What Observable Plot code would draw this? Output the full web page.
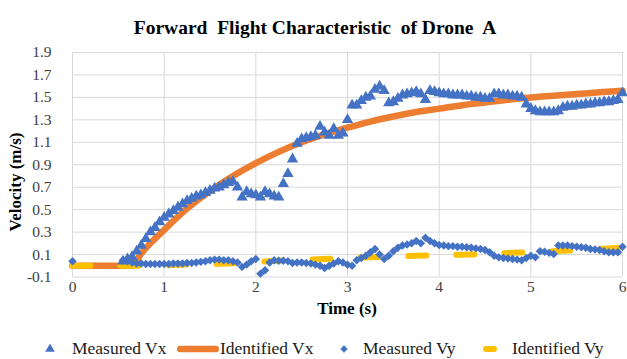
<!DOCTYPE html>
<html>
<head>
<meta charset="utf-8">
<script src="https://cdn.jsdelivr.net/npm/d3@7"></script>
<script src="https://cdn.jsdelivr.net/npm/@observablehq/plot@0.6"></script>
<style>
  html, body { margin: 0; padding: 0; background: #ffffff; }
  #chart { position: relative; width: 627px; height: 359px; overflow: hidden; background: #ffffff;
           font-family: "Liberation Serif", "Times New Roman", serif; color: #000; }
  .abs { position: absolute; white-space: pre; line-height: 1; }
  .title { font-weight: bold; font-size: 19.5px; transform: translate(-50%, -50%); }
  .axis-title { font-weight: bold; font-size: 17px; }
  .legend-text { font-size: 17.5px; transform: translateY(-50%); color: #1a1a1a; }
  #plot { position: absolute; left: 0; top: 45px; }
  .sym { position: absolute; overflow: visible; }
</style>
</head>
<body>
<div id="chart">
  <div class="abs title" style="left:315px; top:28px;">Forward  Flight Characteristic  of Drone  A</div>
  <div id="plot"></div>
  <div class="abs axis-title" style="left:15px; top:182px; transform: translate(-50%, -50%) rotate(-90deg);">Velocity (m/s)</div>
  <div class="abs axis-title" style="left:347px; top:308px; transform: translate(-50%, -50%);">Time (s)</div>
  <div id="legend"></div>
</div>
<script>
// Time axis (s) and velocity axis (m/s) tick values
const xTicks = [0, 1, 2, 3, 4, 5, 6];
const yTicks = [-0.1, 0.1, 0.3, 0.5, 0.7, 0.9, 1.1, 1.3, 1.5, 1.7, 1.9];

// Sample times of the measured velocities (s)
const sampleTime = [
  0.55, 0.6, 0.65, 0.7, 0.75, 0.8, 0.85, 0.9, 0.95, 1.0,
  1.05, 1.1, 1.15, 1.2, 1.25, 1.3, 1.35, 1.4, 1.45, 1.5,
  1.55, 1.6, 1.65, 1.7, 1.75, 1.8, 1.85, 1.9, 1.95, 2.0,
  2.05, 2.1, 2.15, 2.2, 2.25, 2.3, 2.35, 2.4, 2.45, 2.5,
  2.55, 2.6, 2.65, 2.7, 2.75, 2.8, 2.85, 2.9, 2.95, 3.0,
  3.05, 3.1, 3.15, 3.2, 3.25, 3.3, 3.35, 3.4, 3.45, 3.5,
  3.55, 3.6, 3.65, 3.7, 3.75, 3.8, 3.85, 3.9, 3.95, 4.0,
  4.05, 4.1, 4.15, 4.2, 4.25, 4.3, 4.35, 4.4, 4.45, 4.5,
  4.55, 4.6, 4.65, 4.7, 4.75, 4.8, 4.85, 4.9, 4.95, 5.0,
  5.05, 5.1, 5.15, 5.2, 5.25, 5.3, 5.35, 5.4, 5.45, 5.5,
  5.55, 5.6, 5.65, 5.7, 5.75, 5.8, 5.85, 5.9, 5.95, 6.0
];

// Measured forward velocity Vx (m/s)
const measuredVx = [
  0.04, 0.06, 0.08, 0.13, 0.18, 0.24, 0.30, 0.34, 0.39, 0.43,
  0.46, 0.49, 0.52, 0.55, 0.58, 0.60, 0.62, 0.63, 0.65, 0.67,
  0.69, 0.70, 0.72, 0.74, 0.75, 0.70, 0.61, 0.66, 0.64, 0.63,
  0.61, 0.66, 0.64, 0.62, 0.61, 0.73, 0.82, 0.95, 1.09, 1.13,
  1.14, 1.15, 1.16, 1.24, 1.19, 1.16, 1.22, 1.16, 1.18, 1.30,
  1.43, 1.43, 1.47, 1.50, 1.51, 1.57, 1.60, 1.56, 1.45, 1.46,
  1.49, 1.52, 1.53, 1.54, 1.55, 1.53, 1.48, 1.56, 1.55, 1.54,
  1.53, 1.53, 1.52, 1.52, 1.52, 1.51, 1.51, 1.50, 1.50, 1.49,
  1.49, 1.53, 1.53, 1.52, 1.52, 1.51, 1.51, 1.50, 1.44, 1.40,
  1.38, 1.37, 1.37, 1.37, 1.37, 1.38, 1.41, 1.42, 1.42, 1.43,
  1.43, 1.44, 1.44, 1.45, 1.45, 1.46, 1.46, 1.47, 1.48, 1.54
];

// Measured lateral velocity Vy (m/s); one extra reading at t = 0
const vyInitial = { t: 0, v: 0.04 };
const measuredVy = [
  0.05, 0.04, 0.03, 0.02, 0.02, 0.015, 0.015, 0.015, 0.015, 0.015,
  0.015, 0.02, 0.02, 0.02, 0.025, 0.025, 0.03, 0.035, 0.04, 0.05,
  0.055, 0.055, 0.05, 0.05, 0.04, 0.03, -0.01, 0.01, 0.04, 0.06,
  -0.07, -0.04, 0.03, 0.05, 0.045, 0.045, 0.04, 0.025, 0.03, 0.03,
  0.025, 0.02, 0.01, 0.0, -0.02, 0.0, 0.02, 0.04, 0.03, 0.01,
  0.0, 0.05, 0.07, 0.09, 0.12, 0.15, 0.10, 0.06, 0.09, 0.13,
  0.16, 0.18, 0.19, 0.20, 0.22, 0.20, 0.25, 0.22, 0.20, 0.185,
  0.18, 0.175, 0.175, 0.17, 0.17, 0.165, 0.16, 0.155, 0.15, 0.14,
  0.12, 0.09, 0.075, 0.07, 0.065, 0.06, 0.055, 0.05, 0.07, 0.09,
  0.075, 0.13, 0.125, 0.115, 0.105, 0.18, 0.18, 0.18, 0.175, 0.17,
  0.165, 0.16, 0.15, 0.145, 0.14, 0.13, 0.12, 0.12, 0.12, 0.17
];

// Identified model responses (m/s)
const identifiedTime = [0, 0.25, 0.5, 0.65, 0.75, 1.0, 1.25, 1.5, 1.75, 2.0, 2.25, 2.5, 2.75,
  3.0, 3.25, 3.5, 3.75, 4.0, 4.25, 4.5, 4.75, 5.0, 5.25, 5.5, 5.75, 6.0];
const identifiedVx = [0, 0, 0, 0, 0.11, 0.32, 0.51, 0.665, 0.80, 0.915, 1.015, 1.10, 1.17,
  1.23, 1.285, 1.33, 1.37, 1.40, 1.43, 1.455, 1.48, 1.50, 1.515, 1.53, 1.545, 1.56];
const identifiedVy = [0, 0, 0, 0, 0.002, 0.006, 0.011, 0.016, 0.022, 0.033, 0.045, 0.053, 0.061,
  0.07, 0.076, 0.082, 0.089, 0.094, 0.099, 0.104, 0.114, 0.121, 0.13, 0.138, 0.15, 0.162];

const BLUE = "#4472C4", ORANGE = "#ED7D31", YELLOW = "#FFC000", GRID = "#d9d9d9";
const SERIF = "Liberation Serif";

const vxPoints = sampleTime.map((t, i) => ({ t, v: measuredVx[i] }));
const vyPoints = [vyInitial, ...sampleTime.map((t, i) => ({ t, v: measuredVy[i] }))];
const idVx = identifiedTime.map((t, i) => ({ t, v: identifiedVx[i] }));
const idVy = identifiedTime.map((t, i) => ({ t, v: identifiedVy[i] }));

const chart = Plot.plot({
  width: 627,
  height: 260,
  marginLeft: 72,
  marginRight: 5,
  marginTop: 7,
  marginBottom: 28.5,
  style: { background: "transparent", overflow: "visible" },
  x: { domain: [0, 6] },
  y: { domain: [-0.1, 1.9] },
  marks: [
    Plot.ruleY(yTicks, { stroke: GRID, strokeWidth: 1 }),
    Plot.ruleX(xTicks, { stroke: GRID, strokeWidth: 1 }),
    Plot.axisX(xTicks, { tickSize: 0, tickPadding: 4, label: null, tickFormat: d => String(d),
                         fontFamily: SERIF, fontSize: 15.5, fill: "#404040" }),
    Plot.axisY(yTicks, { tickSize: 0, tickPadding: 21, label: null, tickFormat: d => d.toFixed(1),
                         fontFamily: SERIF, fontSize: 15.5, fill: "#404040" }),
    Plot.line(idVx, { x: "t", y: "v", stroke: ORANGE, strokeWidth: 6.5, curve: "monotone-x", strokeLinecap: "round" }),
    Plot.line(idVy, { x: "t", y: "v", stroke: YELLOW, strokeWidth: 6, curve: "monotone-x",
                      strokeLinecap: "round", strokeDasharray: "18,30" }),
    Plot.dot(vyPoints, { x: "t", y: "v", symbol: "diamond2", fill: BLUE, r: 3.8 }),
    Plot.dot(vxPoints, { x: "t", y: "v", symbol: "triangle", fill: BLUE, r: 4.2 })
  ]
});
document.getElementById("plot").appendChild(chart);

// Legend row below the plot
const legendY = 349;
const legend = document.getElementById("legend");
const svgNS = "http://www.w3.org/2000/svg";
function symbolItem(cx, type) {
  const s = document.createElementNS(svgNS, "svg");
  s.setAttribute("class", "sym");
  s.setAttribute("width", 12); s.setAttribute("height", 12);
  s.style.left = (cx - 6) + "px"; s.style.top = (legendY - 6) + "px";
  const p = document.createElementNS(svgNS, "path");
  p.setAttribute("transform", "translate(6,6)");
  p.setAttribute("d", d3.symbol(type === "triangle" ? d3.symbolTriangle : d3.symbolDiamond2, type === "triangle" ? 40 : 34)());
  p.setAttribute("fill", BLUE);
  s.appendChild(p);
  legend.appendChild(s);
}
function lineItem(x1, x2, color, width) {
  const s = document.createElementNS(svgNS, "svg");
  s.setAttribute("class", "sym");
  s.setAttribute("width", x2 - x1 + 10); s.setAttribute("height", 12);
  s.style.left = (x1 - 5) + "px"; s.style.top = (legendY - 6) + "px";
  const l = document.createElementNS(svgNS, "line");
  l.setAttribute("x1", 5 + width / 2); l.setAttribute("x2", x2 - x1 + 5 - width / 2);
  l.setAttribute("y1", 6); l.setAttribute("y2", 6);
  l.setAttribute("stroke", color); l.setAttribute("stroke-width", width);
  l.setAttribute("stroke-linecap", "round");
  s.appendChild(l);
  legend.appendChild(s);
}
function textItem(x, label) {
  const d = document.createElement("div");
  d.className = "abs legend-text";
  d.style.left = x + "px"; d.style.top = legendY + "px";
  d.textContent = label;
  legend.appendChild(d);
}
symbolItem(50, "triangle");
textItem(72, "Measured Vx");
lineItem(177, 219, ORANGE, 6.5);
textItem(220, "Identified Vx");
symbolItem(344, "diamond");
textItem(363, "Measured Vy");
lineItem(483, 497, YELLOW, 6);
textItem(512, "Identified Vy");
</script>
</body>
</html>
